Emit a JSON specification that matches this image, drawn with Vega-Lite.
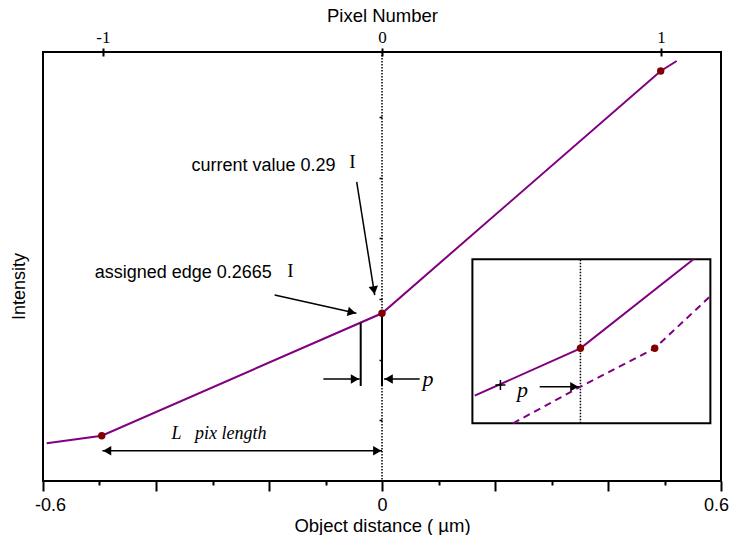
{
  "$schema": "https://vega.github.io/schema/vega-lite/v6.json",
  "width": 678,
  "height": 429,
  "autosize": {"type": "none"},
  "padding": {"left": 43, "top": 52, "right": 10, "bottom": 54},
  "background": "white",
  "config": {
    "view": {"stroke": "black", "strokeWidth": 2},
    "font": "Liberation Sans",
    "axis": {"grid": false}
  },
  "resolve": {"scale": {"x": "independent"}},
  "layer": [
    {
      "data": {"values": [{"pixel": 0}]},
      "mark": {"type": "rule", "color": "black", "strokeWidth": 1.5, "strokeDash": [1.5, 1.5]},
      "encoding": {
        "x": {
          "field": "pixel",
          "type": "quantitative",
          "scale": {"domain": [-1.2146, 1.2146], "nice": false, "zero": false},
          "axis": {
            "orient": "top",
            "values": [-1, 0, 1],
            "labelExpr": "datum.value < -0.5 ? '-1' : (datum.value > 0.5 ? '1' : '0')",
            "title": "Pixel Number",
            "domain": false,
            "offset": -4,
            "tickSize": 8,
            "tickWidth": 2,
            "tickColor": "black",
            "labelFont": "Liberation Serif",
            "labelFontSize": 17,
            "labelColor": "black",
            "labelPadding": 2,
            "labelFlush": false,
            "titleFont": "Liberation Sans",
            "titleFontSize": 18.5,
            "titleFontWeight": "normal",
            "titleColor": "black",
            "titlePadding": 3
          }
        }
      }
    },
    {
      "encoding": {
        "x": {
          "field": "x",
          "type": "quantitative",
          "scale": {"domain": [-0.6, 0.6], "nice": false, "zero": false},
          "axis": {
            "orient": "bottom",
            "values": [-0.6, -0.5, -0.4, -0.3, -0.2, -0.1, 0, 0.1, 0.2, 0.3, 0.4, 0.5, 0.6],
            "labelExpr": "datum.value < -0.55 ? '-0.6' : (datum.value > 0.55 ? '0.6' : (abs(datum.value) < 0.05 ? '0' : ''))",
            "domain": false,
            "tickColor": "black",
            "tickWidth": 2,
            "tickSize": {"condition": {"test": "abs(round(datum.value * 10)) % 2 == 1", "value": 4}, "value": 10},
            "labelFontSize": 18,
            "labelColor": "black",
            "labelPadding": 5,
            "labelOffset": {"condition": [{"test": "datum.value < -0.55", "value": 7}, {"test": "datum.value > 0.55", "value": -5}], "value": 0},
            "labelFlush": false,
            "labelOverlap": false,
            "title": "Object distance ( µm)",
            "titleFontSize": 18.5,
            "titleFontWeight": "normal",
            "titleColor": "black",
            "titlePadding": 2
          }
        },
        "y": {
          "field": "y",
          "type": "quantitative",
          "scale": {"domain": [0, 0.707], "nice": false, "zero": false},
          "axis": {
            "orient": "left",
            "offset": -339,
            "values": [0.1, 0.2, 0.3, 0.4, 0.5, 0.6],
            "labels": false,
            "domain": false,
            "tickSize": 3,
            "tickColor": "black",
            "tickWidth": 1.5,
            "title": "Intensity",
            "titleX": -363,
            "titleY": 234,
            "titleAngle": -90,
            "titleAlign": "center",
            "titleBaseline": "middle",
            "titleFontSize": 18,
            "titleFontWeight": "normal",
            "titleColor": "black"
          }
        }
      },
      "layer": [
        {
          "data": {"values": [
            {"x": -0.5935, "y": 0.0621},
            {"x": -0.496, "y": 0.0747},
            {"x": 0, "y": 0.2764},
            {"x": 0.4933, "y": 0.6757},
            {"x": 0.5216, "y": 0.6922}
          ]},
          "mark": {"type": "line", "color": "#800080", "strokeWidth": 2}
        },
        {
          "data": {"values": [{"x": 0.16, "x2": 0.5812, "y": 0.0951, "y2": 0.3654}]},
          "mark": {"type": "rect", "fill": "white", "stroke": "black", "strokeWidth": 2},
          "encoding": {
            "x2": {"field": "x2"},
            "y2": {"field": "y2"}
          }
        },
        {
          "data": {"values": [{"x": 0.3512, "y": 0.0951, "y2": 0.3654}]},
          "mark": {"type": "rule", "color": "black", "strokeWidth": 1.5, "strokeDash": [1.5, 1.5]},
          "encoding": {
            "y2": {"field": "y2"}
          }
        },
        {
          "data": {"values": [
            {"x": 0.1641, "y": 0.1406},
            {"x": 0.3512, "y": 0.2187},
            {"x": 0.5513, "y": 0.3654}
          ]},
          "mark": {"type": "line", "color": "#800080", "strokeWidth": 2}
        },
        {
          "data": {"values": [
            {"x": 0.2319, "y": 0.0951},
            {"x": 0.3512, "y": 0.1554},
            {"x": 0.4827, "y": 0.2187},
            {"x": 0.58, "y": 0.3037}
          ]},
          "mark": {"type": "line", "color": "#800080", "strokeWidth": 2, "strokeDash": [7, 5]}
        },
        {
          "data": {"values": [{"x": -0.0377, "y": 0.1566, "y2": 0.2611}, {"x": 0, "y": 0.1566, "y2": 0.2764}]},
          "mark": {"type": "rule", "color": "black", "strokeWidth": 2},
          "encoding": {
            "y2": {"field": "y2"}
          }
        },
        {
          "data": {"values": [
            {"x": -0.4949, "y": 0.05, "x2": 0, "y2": 0.05},
            {"x": -0.1038, "y": 0.1681, "x2": -0.0395, "y2": 0.1681},
            {"x": 0.0667, "y": 0.1681, "x2": 0.0035, "y2": 0.1681},
            {"x": -0.0448, "y": 0.4928, "x2": -0.0129, "y2": 0.3065},
            {"x": -0.19, "y": 0.3065, "x2": -0.0453, "y2": 0.2764},
            {"x": 0.2791, "y": 0.1554, "x2": 0.3487, "y2": 0.1554}
          ]},
          "mark": {"type": "rule", "color": "black", "strokeWidth": 1.5},
          "encoding": {
            "x2": {"field": "x2"},
            "y2": {"field": "y2"}
          }
        },
        {
          "data": {"values": [{"x": -0.0084, "y": 0.05}, {"x": -0.0479, "y": 0.1681}, {"x": 0.3403, "y": 0.1554}]},
          "mark": {"type": "point", "shape": "triangle-right", "filled": true, "color": "black", "size": 90, "opacity": 1}
        },
        {
          "data": {"values": [{"x": -0.4865, "y": 0.05}, {"x": 0.0119, "y": 0.1681}]},
          "mark": {"type": "point", "shape": "triangle-left", "filled": true, "color": "black", "size": 90, "opacity": 1}
        },
        {
          "data": {"values": [{"x": -0.01425, "y": 0.3143}]},
          "mark": {"type": "point", "shape": "triangle-up", "angle": 171, "filled": true, "color": "black", "size": 90, "opacity": 1}
        },
        {
          "data": {"values": [{"x": -0.0535, "y": 0.2781}]},
          "mark": {"type": "point", "shape": "triangle-up", "angle": 102.6, "filled": true, "color": "black", "size": 90, "opacity": 1}
        },
        {
          "data": {"values": [{"x": 0.2096, "y": 0.1582}]},
          "mark": {"type": "point", "shape": "M-1,0H1M0,-1V1", "filled": false, "color": "black", "strokeWidth": 1.5, "size": 100, "opacity": 1}
        },
        {
          "data": {"values": [
            {"x": -0.496, "y": 0.0747},
            {"x": 0, "y": 0.2764},
            {"x": 0.4933, "y": 0.6757},
            {"x": 0.3512, "y": 0.2187},
            {"x": 0.4827, "y": 0.2187}
          ]},
          "mark": {"type": "point", "filled": true, "color": "#800000", "size": 55, "opacity": 1}
        },
        {
          "data": {"values": [
            {"x": -0.3373, "y": 0.5109, "t": "current value 0.29"},
            {"x": -0.5085, "y": 0.334, "t": "assigned edge 0.2665"}
          ]},
          "mark": {"type": "text", "align": "left", "baseline": "alphabetic", "font": "Liberation Sans", "fontSize": 18, "color": "black"},
          "encoding": {
            "text": {"field": "t"}
          }
        },
        {
          "data": {"values": [
            {"x": -0.0524, "y": 0.5153, "t": "I"},
            {"x": -0.1621, "y": 0.3357, "t": "I"}
          ]},
          "mark": {"type": "text", "align": "center", "baseline": "alphabetic", "font": "Liberation Serif", "fontSize": 19, "color": "black"},
          "encoding": {
            "text": {"field": "t"}
          }
        },
        {
          "data": {"values": [
            {"x": 0.0813, "y": 0.1566, "t": "p"},
            {"x": 0.2485, "y": 0.1389, "t": "p"}
          ]},
          "mark": {"type": "text", "align": "center", "baseline": "alphabetic", "font": "Liberation Serif", "fontStyle": "italic", "fontSize": 22, "color": "black"},
          "encoding": {
            "text": {"field": "t"}
          }
        },
        {
          "data": {"values": [{"x": -0.3727, "y": 0.0692, "t": "L\u00a0\u00a0\u00a0pix length"}]},
          "mark": {"type": "text", "align": "left", "baseline": "alphabetic", "font": "Liberation Serif", "fontStyle": "italic", "fontSize": 18, "color": "black"},
          "encoding": {
            "text": {"field": "t"}
          }
        }
      ]
    }
  ]
}
